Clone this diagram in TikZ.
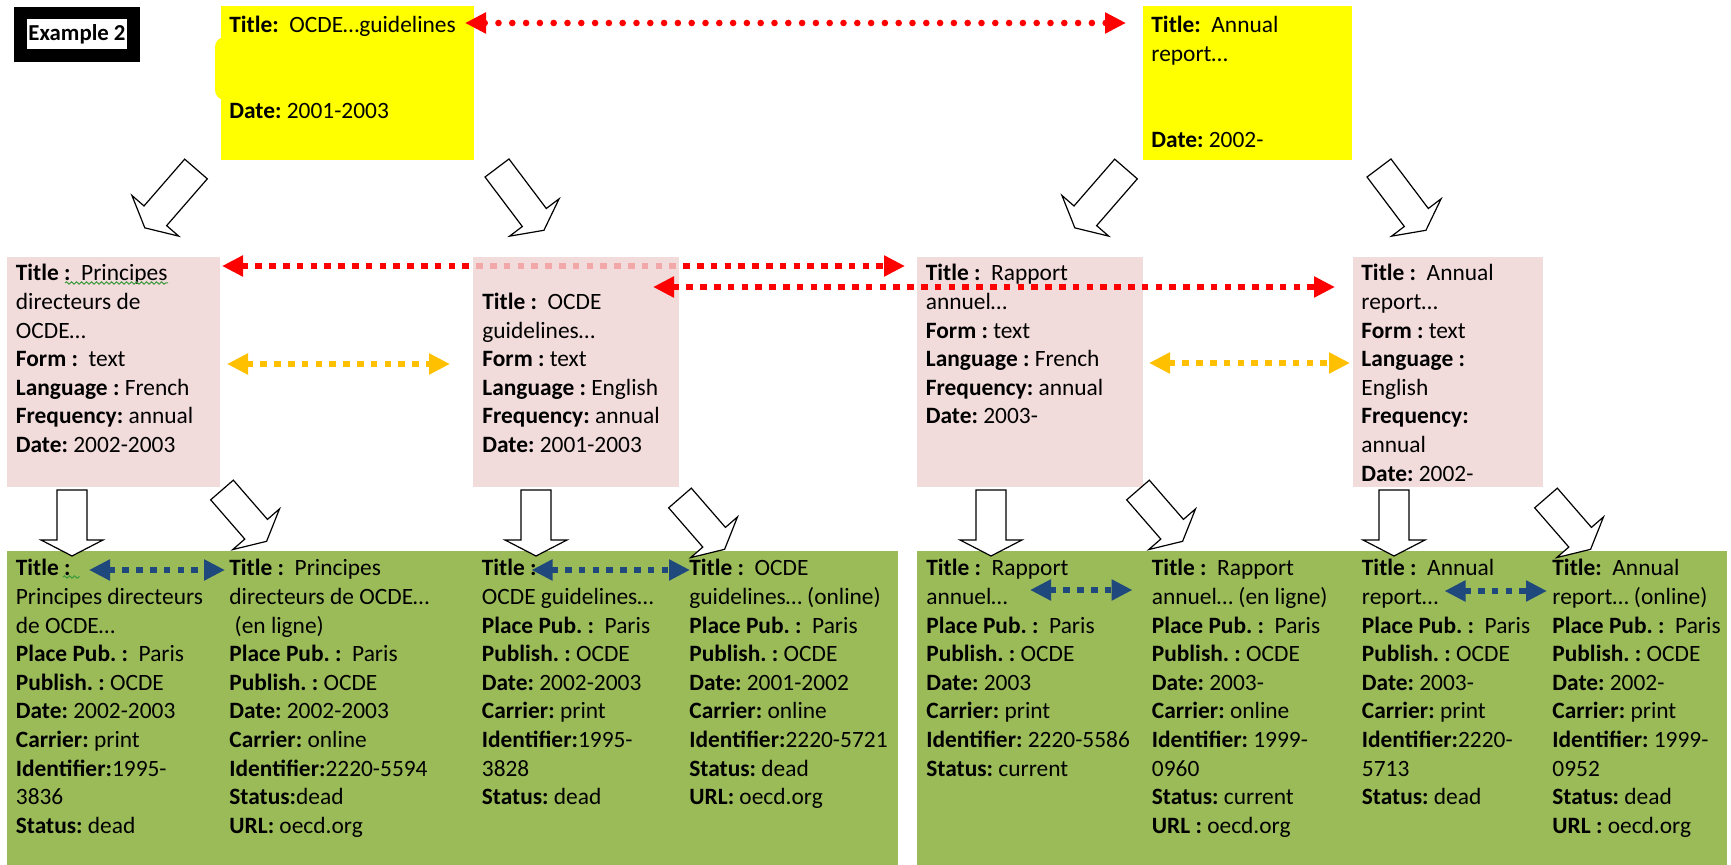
\documentclass[tikz,border=0pt]{standalone}
\usepackage{fontspec}
\setmainfont{Carlito}
\usetikzlibrary{arrows.meta, calc, decorations.pathmorphing}
\frenchspacing

\definecolor{recyellow}{HTML}{FFFF00}
\definecolor{recpink}{HTML}{EFD3D2}
\definecolor{recgreen}{HTML}{9BBB59}
\definecolor{linkred}{HTML}{FF0000}
\definecolor{linkorange}{HTML}{FFC000}
\definecolor{linkblue}{HTML}{1F497D}
\definecolor{squiggle}{HTML}{3C9A3C}

\tikzset{
  recbox/.style={anchor=north west, inner sep=0pt, outer sep=0pt},
  yellowbox/.style={recbox, fill=recyellow},
  pinkbox/.style={recbox, fill=recpink, fill opacity=0.8},
  greenbox/.style={recbox, fill=recgreen},
  record/.style={anchor=north west, inner sep=0pt, align=left, font=\fontsize{11.7}{14.3}\selectfont},
  link/.style={line width=3.3pt, {Triangle[length=10.5pt,width=10pt]}-{Triangle[length=10.5pt,width=10pt]}},
  squaredots/.style={dash pattern=on 3.3pt off 3.6pt},
  redlink/.style={link, squaredots, draw=linkred},
  roundlink/.style={link, draw=linkred, line cap=round, dash pattern=on 0pt off 6.9pt},
  orangelink/.style={link, squaredots, draw=linkorange},
  bluelink/.style={link, squaredots, draw=linkblue},
  wavy/.style={draw=squiggle, line width=0.5pt, decorate, decoration={snake, amplitude=0.6pt, segment length=2.5pt}},
  pics/hollow arrow/.style={code={
    \draw[line width=0.6pt, fill=white, line join=miter]
      (0,-15) -- (#1-16,-15) -- (#1-16,-31) -- (#1,0) -- (#1-16,31) -- (#1-16,15) -- (0,15) -- cycle;
  }}
}

\begin{document}
\begin{tikzpicture}[x=0.5pt, y=-0.5pt]
  \useasboundingbox (0,0) rectangle (1731,865);
  % corner label
  \node[recbox, fill=black, minimum width=63pt, minimum height=27.5pt] (ex) at (14,7) {};
  \node[fill=white, inner sep=0pt, minimum width=50pt, minimum height=15pt, font=\fontsize{11.4}{13}\selectfont\bfseries] (exlabel) at (ex.center) {Example 2};
  % work level (yellow)
  \node[yellowbox, rounded corners=5pt, minimum width=40pt, minimum height=31.5pt] (ytab) at (215,37) {};
  \node[yellowbox, minimum width=126.5pt, minimum height=77pt] (y1) at (221,6) {};
  \node[yellowbox, minimum width=104.5pt, minimum height=77pt] (y2) at (1143,6) {};
  \node[record] (y1t) at (229,16) {\textbf{Title:}~ OCDE…guidelines\\[28.6pt]\textbf{Date:} 2001-2003};
  \node[record] (y2t) at (1151,16) {\textbf{Title:}~ Annual\\report…\\[28.6pt]\textbf{Date:} 2002-};
  % manifestation level (green)
  \node[greenbox, minimum width=445.5pt, minimum height=157pt] (g1) at (7,551) {};
  \node[greenbox, minimum width=405pt, minimum height=157pt] (g2) at (917,551) {};
  % expression level (pink), p2 sits over the first red link
  \node[pinkbox, minimum width=106.5pt, minimum height=115pt] (p1) at (7,257) {};
  \node[pinkbox, minimum width=113pt, minimum height=115pt] (p3) at (917,257) {};
  \node[pinkbox, minimum width=95pt, minimum height=115pt] (p4) at (1353,257) {};
  \draw[redlink] ($(p1.north east)+(2,9)$) -- ($(p3.north west)+(-12,9)$);
  \node[pinkbox, minimum width=103pt, minimum height=115pt] (p2) at (473,257) {};
  % expression texts
  \node[record] (p1t) at (15.5,264) {\textbf{Title :}~ Principes\\directeurs de\\OCDE…\\\textbf{Form :}~ text\\\textbf{Language :} French\\\textbf{Frequency:} annual\\\textbf{Date:} 2002-2003};
  \node[record] (p2t) at (482,292.6) {\textbf{Title :}~ OCDE\\guidelines…\\\textbf{Form :} text\\\textbf{Language :} English\\\textbf{Frequency:} annual\\\textbf{Date:} 2001-2003};
  \node[record] (p3t) at (925.5,264) {\textbf{Title :}~ Rapport\\annuel…\\\textbf{Form :} text\\\textbf{Language :} French\\\textbf{Frequency:} annual\\\textbf{Date:} 2003-};
  \node[record] (p4t) at (1361,264) {\textbf{Title :}~ Annual\\report…\\\textbf{Form :} text\\\textbf{Language :}\\English\\\textbf{Frequency:}\\annual\\\textbf{Date:} 2002-};
  % manifestation texts
  \node[record] (c1) at (15.5,559) {\textbf{Title :}\\Principes directeurs\\de OCDE…\\\textbf{Place Pub. :}~ Paris\\\textbf{Publish. :} OCDE\\\textbf{Date:} 2002-2003\\\textbf{Carrier:} print\\\textbf{Identifier:}1995-\\3836\\\textbf{Status:} dead};
  \node[record] (c2) at (229,559) {\textbf{Title :}~ Principes\\directeurs de OCDE…\\\ (en ligne)\\\textbf{Place Pub. :}~ Paris\\\textbf{Publish. :} OCDE\\\textbf{Date:} 2002-2003\\\textbf{Carrier:} online\\\textbf{Identifier:}2220-5594\\\textbf{Status:}dead\\\textbf{URL:} oecd.org};
  \node[record] (c3) at (481.5,559) {\textbf{Title :}\\OCDE guidelines…\\\textbf{Place Pub. :}~ Paris\\\textbf{Publish. :} OCDE\\\textbf{Date:} 2002-2003\\\textbf{Carrier:} print\\\textbf{Identifier:}1995-\\3828\\\textbf{Status:} dead};
  \node[record] (c4) at (689,559) {\textbf{Title :}~ OCDE\\guidelines… (online)\\\textbf{Place Pub. :}~ Paris\\\textbf{Publish. :} OCDE\\\textbf{Date:} 2001-2002\\\textbf{Carrier:} online\\\textbf{Identifier:}2220-5721\\\textbf{Status:} dead\\\textbf{URL:} oecd.org};
  \node[record] (c5) at (926,559) {\textbf{Title :}~ Rapport\\annuel…\\\textbf{Place Pub. :}~ Paris\\\textbf{Publish. :} OCDE\\\textbf{Date:} 2003\\\textbf{Carrier:} print\\\textbf{Identifier:} 2220-5586\\\textbf{Status:} current};
  \node[record] (c6) at (1151.5,559) {\textbf{Title :}~ Rapport\\annuel… (en ligne)\\\textbf{Place Pub. :}~ Paris\\\textbf{Publish. :} OCDE\\\textbf{Date:} 2003-\\\textbf{Carrier:} online\\\textbf{Identifier:} 1999-\\0960\\\textbf{Status:} current\\\textbf{URL :} oecd.org};
  \node[record] (c7) at (1361.5,559) {\textbf{Title :}~ Annual\\report…\\\textbf{Place Pub. :}~ Paris\\\textbf{Publish. :} OCDE\\\textbf{Date:} 2003-\\\textbf{Carrier:} print\\\textbf{Identifier:}2220-\\5713\\\textbf{Status:} dead};
  \node[record] (c8) at (1552,559) {\textbf{Title:}~ Annual\\report… (online)\\\textbf{Place Pub. :}~ Paris\\\textbf{Publish. :} OCDE\\\textbf{Date:} 2002-\\\textbf{Carrier:} print\\\textbf{Identifier:} 1999-\\0952\\\textbf{Status:} dead\\\textbf{URL :} oecd.org};
  % spelling marks
  \draw[wavy] (65,283) -- (168,283);
  \draw[wavy] (63,577) -- (80,577);
  % links between records
  \draw[roundlink] ($(y1.north east)+(-9,17)$) -- ($(y2.north west)+(-17,17)$);
  \draw[redlink] ($(p2.north east)+(-26,30)$) -- ($(p4.north west)+(-18,30)$);
  \draw[orangelink] ($(p1.north east)+(7,107)$) -- ($(p2.north west)+(-23,107)$);
  \draw[orangelink] ($(p3.north east)+(6,106)$) -- ($(p4.north west)+(-3,106)$);
  \draw[bluelink] ($(c1.north west)+(73.5,11)$) -- ($(c2.north west)+(-4,11)$);
  \draw[bluelink] ($(c3.north west)+(50,11)$) -- ($(c4.north west)+(1,11)$);
  \draw[bluelink] ($(c5.north west)+(104,31)$) -- ($(c6.north west)+(-19,31)$);
  \draw[bluelink] ($(c7.north west)+(83,32)$) -- ($(c8.north west)+(-5,32)$);
  % hollow arrows from work to expressions
  \pic[rotate=-131] at (196,169) {hollow arrow=78};
  \pic[rotate=-53] at (497,168) {hollow arrow=78};
  \pic[rotate=-131] at (1126,169) {hollow arrow=78};
  \pic[rotate=-53] at (1379,168) {hollow arrow=78};
  % hollow arrows from expressions to manifestations
  \pic[rotate=-90] at (72,490) {hollow arrow=66};
  \pic[rotate=-49] at (222,490) {hollow arrow=68};
  \pic[rotate=-90] at (536,490) {hollow arrow=66};
  \pic[rotate=-49] at (680,498) {hollow arrow=68};
  \pic[rotate=-90] at (991,490) {hollow arrow=66};
  \pic[rotate=-49] at (1138,490) {hollow arrow=68};
  \pic[rotate=-90] at (1394,490) {hollow arrow=66};
  \pic[rotate=-49] at (1546,498) {hollow arrow=68};
\end{tikzpicture}
\end{document}
